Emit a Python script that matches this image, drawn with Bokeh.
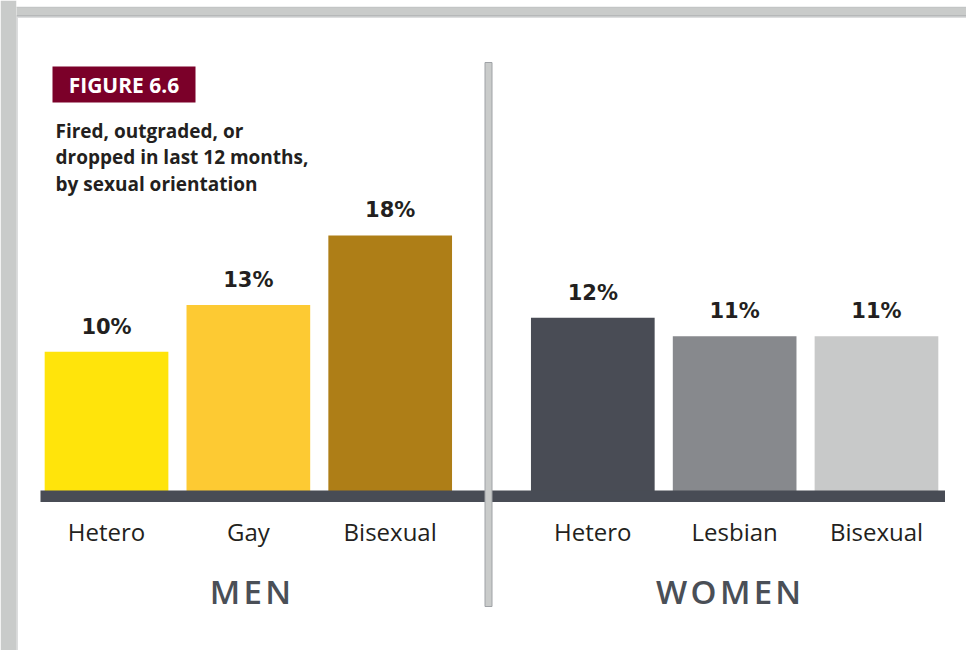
from bokeh.plotting import figure
from bokeh.models import Range1d, FactorRange, ColumnDataSource, BoxAnnotation
from bokeh.core.properties import value
from bokeh.embed import file_html
from bokeh.resources import INLINE

# ---- data ----
groups = ["Men", "Men", "Men", "Women", "Women", "Women"]
categories = ["Hetero", "Gay", "Bisexual", "Hetero", "Lesbian", "Bisexual"]
values = [9.8, 13.1, 18.0, 12.2, 10.9, 10.9]          # % fired/outgraded/dropped (bar heights)
value_labels = ["10%", "13%", "18%", "12%", "11%", "11%"]
bar_colors = ["#ffe40b", "#fdca33", "#ae7e17", "#494c55", "#87898d", "#c8c9c9"]
group_names = ["Men", "Women"]
group_labels = ["M\u200aE\u200aN", "W\u200aO\u200aM\u200aE\u200aN"]
badge_text = "FIGURE 6.6"
subtitle_lines = ["Fired, outgraded, or", "dropped in last 12 months,", "by sexual orientation"]

# ---- layout constants ----
W, H = 966, 650
LEFT = 16
ZERO_Y = 490.5          # pixel y of 0 %
PX_PER_PCT = 14.2
GROUP_PAD = 0.4286
RANGE_PAD = 0.1347

factors = list(zip(groups, categories))
n_units = len(factors) + GROUP_PAD * (len(group_names) - 1)
unit_px = (W - LEFT) / (n_units + 2 * RANGE_PAD)


def sx(px):
    """pixel x -> synthetic categorical coordinate (for decorations)"""
    return (px - LEFT) / unit_px - RANGE_PAD


def cbox(l, r, t, b, **kw):
    return BoxAnnotation(left=l, right=r, top=t, bottom=b, left_units="canvas",
                         right_units="canvas", top_units="canvas", bottom_units="canvas",
                         level="underlay", **kw)


p = figure(width=W, height=H, output_backend="svg", toolbar_location=None,
           x_range=FactorRange(*factors, group_padding=GROUP_PAD, factor_padding=0.0,
                               range_padding=RANGE_PAD, range_padding_units="absolute"),
           y_range=Range1d(H, 0),
           x_axis_type=None, y_axis_type=None,
           min_border_left=LEFT, min_border_right=0, min_border_top=0, min_border_bottom=0)
p.grid.visible = False
p.outline_line_color = None
p.background_fill_color = "white"
p.border_fill_color = "#c9cbca"      # left strip = frame band
p.extra_y_ranges = {"pct": Range1d(-(H - ZERO_Y) / PX_PER_PCT, ZERO_Y / PX_PER_PCT)}

# ---- outer frame ----
p.add_layout(cbox(5.5, 990, 6.5, 700, fill_color="#c9cbca", fill_alpha=1.0,
                  line_color="#a3a6a9", line_width=1))
p.add_layout(cbox(16, 990, 16, 700, fill_color="white", fill_alpha=1.0,
                  line_color="#8c8f93", line_width=3))

# ---- bars ----
src = ColumnDataSource(dict(x=factors, top=values, color=bar_colors, label=value_labels))
p.vbar(x="x", top="top", bottom=0, width=0.872, fill_color="color", line_color=None,
       source=src, y_range_name="pct")

# value labels
p.text(x="x", y="top", text="label", source=src, y_range_name="pct",
       y_offset=-25, text_align="center", text_baseline="alphabetic",
       text_font=value("DejaVu Sans"), text_font_style="bold", text_font_size="21px",
       text_color="#231f20")

# ---- baseline band ----
p.quad(left=[sx(40)], right=[sx(944.5)], top=[490], bottom=[501.5], fill_color="#484c55",
       line_color=None)

# ---- vertical divider ----
p.quad(left=[sx(484.5)], right=[sx(491.5)], top=[62], bottom=[606], fill_color="#c9cbca",
       line_color="#9fa2a6", line_width=1)

# ---- category labels ----
p.text(x=factors, y=[531] * len(factors), text=categories,
       text_align="center", text_baseline="alphabetic",
       text_font=value("Open Sans"), text_font_size="24px", text_color="#231f20")

# ---- group labels ----
p.text(x=group_names, y=[591, 591], text=group_labels, x_offset=[2, -6],
       text_align="center", text_baseline="alphabetic",
       text_font=value("Open Sans SemiBold, Open Sans"), text_font_size="33px",
       text_color="#4a4f57")

# ---- badge ----
p.quad(left=[sx(52)], right=[sx(195)], top=[66], bottom=[102], fill_color="#7b0029",
       line_color=None)
p.text(x=[sx(123.5)], y=[84.5], text=[badge_text], text_align="center", text_baseline="middle",
       text_font=value("Open Sans"), text_font_style="bold", text_font_size="21px",
       text_color="white")

# ---- subtitle ----
p.text(x=[sx(55)] * 3, y=[130, 156.5, 183], text=subtitle_lines, text_align="left",
       text_baseline="alphabetic", text_font=value("Open Sans"), text_font_style="bold",
       text_font_size="19px", text_color="#231f20")

open("out.html", "w").write(file_html(p, INLINE))
